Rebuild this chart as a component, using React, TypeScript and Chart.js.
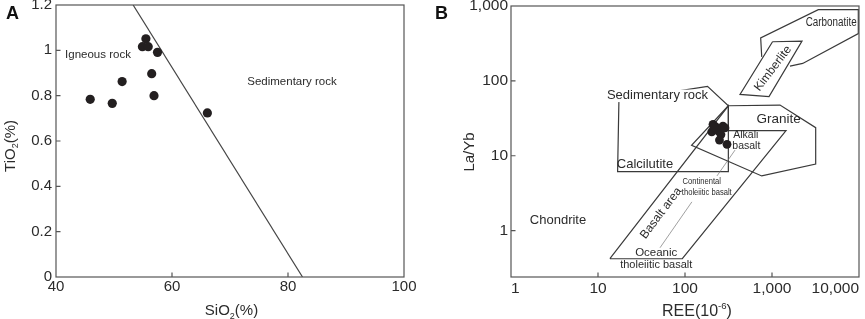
import React, { useEffect, useRef } from "react";
import { Chart, registerables } from "chart.js";

Chart.register(...registerables);

const FONT = "'Liberation Sans', Arial, Helvetica, sans-serif";
const TXT = "#2b2b2b";
const DOT = "#231f20";
const LINE = "#3a3a3a";

// ---------------- Panel A : TiO2 vs SiO2 ----------------
const sio2Values = [45.9, 49.7, 51.4, 55.5, 54.9, 55.9, 57.5, 56.5, 56.9, 66.1];
const tio2Values = [0.784, 0.766, 0.862, 1.051, 1.016, 1.016, 0.991, 0.897, 0.8, 0.724];
const boundaryASiO2 = [53.3, 82.5];
const boundaryATiO2 = [1.2, 0];
const xTicksA = [40, 60, 80, 100];
const xTickLabelsA = ["40", "60", "80", "100"];
const yTicksA = [0, 0.2, 0.4, 0.6, 0.8, 1, 1.2];
const yTickLabelsA = ["0", "0.2", "0.4", "0.6", "0.8", "1", "1.2"];
const regionLabelsA = ["Igneous rock", "Sedimentary rock"];
const regionLabelXA = [47.24, 80.69];
const regionLabelYA = [0.979, 0.86];

// ---------------- Panel B : La/Yb vs REE ----------------
const reeValues = [210, 273, 227, 203, 240, 259, 249, 304, 288, 215];
const laYbValues = [26.3, 24.9, 24.2, 20.9, 21.4, 19.2, 16.2, 14.2, 23.5, 24.2];

const carbonatiteREE = [762, 741, 3405, 9820, 9820, 2254, 1610];
const carbonatiteLaYb = [209, 375, 895, 895, 428, 171, 157];
const kimberliteREE = [1014, 2213, 924, 429, 1014];
const kimberliteLaYb = [333, 339, 61.7, 65.9, 333];
const sedimentaryREE = [17.4, 181.5, 315, 315, 16.8, 17.4];
const sedimentaryLaYb = [55.3, 84.4, 46.5, 6.14, 6.14, 55.3];
const graniteREE = [315, 1236, 3178, 3178, 762, 119, 315];
const graniteLaYb = [46.5, 47.5, 23.7, 7.76, 5.37, 13.8, 46.5];
const basaltREE = [13.7, 315, 315, 1449, 93.1, 13.7];
const basaltLaYb = [0.421, 46.5, 21.7, 21.7, 0.421, 0.421];
const leader1REE = [376, 233];
const leader1LaYb = [11.9, 5.37];
const leader2REE = [120, 51.6];
const leader2LaYb = [2.42, 0.59];

const xTicksB = [1, 10, 100, 1000, 10000];
const xTickLabelsB = ["1", "10", "100", "1,000", "10,000"];
const yTicksB = [1, 10, 100, 1000];
const yTickLabelsB = ["1", "10", "100", "1,000"];

const regionLabelsB = [
  "Carbonatite", "Kimberlite", "Sedimentary rock", "Granite", "Alkali", "basalt",
  "Calcilutite", "Chondrite", "Basalt area", "Continental", "tholeiitic basalt",
  "Oceanic", "tholeiitic basalt",
];
const regionLabelXB = [4789, 1026, 48.3, 1194, 500, 507, 34.7, 3.47, 53, 156, 178, 46.7, 46.7];
const regionLabelYB = [593, 146.6, 63.1, 30.9, 18.9, 13.5, 7.69, 1.35, 1.71, 4.51, 3.26, 0.511, 0.343];
// styles: [fontSize, rotationDeg, scaleX, whiteBackground]
const regionStyleB: [number, number, number, boolean][] = [
  [12, 0, 0.82, false],
  [12, -52.6, 1, false],
  [13, 0, 1, true],
  [13.5, 0, 1, false],
  [10.5, 0, 1, false],
  [10.5, 0, 1, false],
  [13, 0, 1, false],
  [13, 0, 1, false],
  [12, -53, 1, false],
  [9.5, 0, 0.8, false],
  [9.5, 0, 0.8, false],
  [11.5, 0, 1, false],
  [11, 0, 1, false],
];

type Seg = { t: string; sub?: boolean; sup?: boolean };

function drawRich(ctx: CanvasRenderingContext2D, segs: Seg[], cx: number, cy: number, rot: number, size: number) {
  ctx.save();
  ctx.translate(cx, cy);
  ctx.rotate(rot);
  const small = size * 0.6;
  const fontOf = (s: Seg) => `${s.sub || s.sup ? small : size}px ${FONT}`;
  let total = 0;
  const widths = segs.map((s) => {
    ctx.font = fontOf(s);
    const w = ctx.measureText(s.t).width;
    total += w;
    return w;
  });
  let x = -total / 2;
  ctx.textAlign = "left";
  ctx.textBaseline = "alphabetic";
  ctx.fillStyle = TXT;
  const base = size * 0.36;
  segs.forEach((s, i) => {
    ctx.font = fontOf(s);
    const dy = s.sub ? size * 0.22 : s.sup ? -size * 0.42 : 0;
    ctx.fillText(s.t, x, base + dy);
    x += widths[i];
  });
  ctx.restore();
}

type Annot = { text: string; x: number; y: number; size: number; rot: number; sx: number; bg: boolean };
type Title = { segs: Seg[]; x: number; y: number; rot: number; size: number };

function makeDecor(cfg: {
  xTicks: number[];
  yTicks: number[];
  annots: Annot[];
  titles: Title[];
  letter: { text: string; x: number; y: number };
}) {
  return {
    id: "decor",
    afterDatasetsDraw(chart: any) {
      const { ctx, chartArea: a } = chart;
      const xs = chart.scales.x;
      const ys = chart.scales.y;
      // annotations (region names)
      for (const an of cfg.annots) {
        const px = xs.getPixelForValue(an.x);
        const py = ys.getPixelForValue(an.y);
        ctx.save();
        ctx.translate(px, py);
        if (an.rot) ctx.rotate((an.rot * Math.PI) / 180);
        if (an.sx !== 1) ctx.scale(an.sx, 1);
        ctx.font = `${an.size}px ${FONT}`;
        ctx.textAlign = "center";
        ctx.textBaseline = "middle";
        if (an.bg) {
          const w = ctx.measureText(an.text).width;
          ctx.fillStyle = "#fff";
          ctx.fillRect(-w / 2 - 1, -an.size * 0.48, w + 2, an.size * 0.96);
        }
        ctx.fillStyle = TXT;
        ctx.fillText(an.text, 0, 0);
        ctx.restore();
      }
      // frame + inward ticks
      ctx.save();
      ctx.strokeStyle = "#555";
      ctx.lineWidth = 1.2;
      ctx.strokeRect(a.left, a.top, a.right - a.left, a.bottom - a.top);
      ctx.beginPath();
      for (const v of cfg.xTicks) {
        const px = xs.getPixelForValue(v);
        if (px <= a.left + 2 || px >= a.right - 2) continue;
        ctx.moveTo(px, a.bottom);
        ctx.lineTo(px, a.bottom - 4.5);
      }
      for (const v of cfg.yTicks) {
        const py = ys.getPixelForValue(v);
        if (py <= a.top + 2 || py >= a.bottom - 2) continue;
        ctx.moveTo(a.left, py);
        ctx.lineTo(a.left + 4.5, py);
      }
      ctx.stroke();
      ctx.restore();
    },
    afterDraw(chart: any) {
      const { ctx } = chart;
      for (const t of cfg.titles) drawRich(ctx, t.segs, t.x, t.y, t.rot, t.size);
      ctx.save();
      ctx.font = `bold 18px ${FONT}`;
      ctx.fillStyle = "#111";
      ctx.textAlign = "center";
      ctx.textBaseline = "middle";
      ctx.fillText(cfg.letter.text, cfg.letter.x, cfg.letter.y);
      ctx.restore();
    },
  };
}

const pts = (xs: number[], ys: number[]) => xs.map((x, i) => ({ x, y: ys[i] }));
const zeroPad = (s: any) => {
  s.paddingLeft = 0;
  s.paddingRight = 0;
  s.paddingTop = 0;
  s.paddingBottom = 0;
};

const polyDs = (xs: number[], ys: number[], width = 1.2, color = LINE) => ({
  data: pts(xs, ys),
  showLine: true,
  pointRadius: 0,
  pointHoverRadius: 0,
  borderColor: color,
  borderWidth: width,
  backgroundColor: "transparent",
  fill: false,
  tension: 0,
});

function configA(): any {
  return {
    type: "scatter",
    data: {
      datasets: [
        {
          data: pts(sio2Values, tio2Values),
          pointRadius: 4.6,
          pointHoverRadius: 4.6,
          backgroundColor: DOT,
          borderColor: DOT,
          borderWidth: 0,
        },
        polyDs(boundaryASiO2, boundaryATiO2, 1.2, "#444"),
      ],
    },
    options: {
      responsive: false,
      animation: false,
      devicePixelRatio: 1,
      events: [],
      layout: { padding: { left: 0, top: 5, right: 26, bottom: 0 } },
      plugins: { legend: { display: false }, tooltip: { enabled: false } },
      scales: {
        x: {
          type: "linear",
          min: 40,
          max: 100,
          grid: { display: false, drawTicks: false },
          border: { display: false },
          afterBuildTicks: (s: any) => {
            s.ticks = xTicksA.map((v) => ({ value: v }));
          },
          ticks: {
            padding: 1,
            color: TXT,
            autoSkip: false,
            maxRotation: 0,
            font: { family: FONT, size: 15 },
            callback: (_v: any, i: number) => xTickLabelsA[i],
          },
          afterFit: (s: any) => {
            s.height = 42;
            zeroPad(s);
          },
        },
        y: {
          type: "linear",
          min: 0,
          max: 1.2,
          grid: { display: false, drawTicks: false },
          border: { display: false },
          afterBuildTicks: (s: any) => {
            s.ticks = yTicksA.map((v) => ({ value: v }));
          },
          ticks: {
            padding: 4,
            color: TXT,
            autoSkip: false,
            font: { family: FONT, size: 15 },
            callback: (_v: any, i: number) => yTickLabelsA[i],
          },
          afterFit: (s: any) => {
            s.width = 56;
            zeroPad(s);
          },
        },
      },
    },
    plugins: [
      makeDecor({
        xTicks: xTicksA,
        yTicks: yTicksA,
        annots: regionLabelsA.map((t, i) => ({
          text: t, x: regionLabelXA[i], y: regionLabelYA[i], size: 11.5, rot: 0, sx: 1, bg: false,
        })),
        titles: [
          { segs: [{ t: "SiO" }, { t: "2", sub: true }, { t: "(%)" }], x: 231.5, y: 310, rot: 0, size: 15 },
          { segs: [{ t: "TiO" }, { t: "2", sub: true }, { t: "(%)" }], x: 9.5, y: 146, rot: -Math.PI / 2, size: 15 },
        ],
        letter: { text: "A", x: 12.5, y: 14.5 },
      }),
    ],
  };
}

function configB(): any {
  return {
    type: "scatter",
    data: {
      datasets: [
        {
          data: pts(reeValues, laYbValues),
          pointRadius: 4.4,
          pointHoverRadius: 4.4,
          backgroundColor: DOT,
          borderColor: DOT,
          borderWidth: 0,
        },
        polyDs(leader1REE, leader1LaYb, 0.7, "#777"),
        polyDs(leader2REE, leader2LaYb, 0.7, "#777"),
        polyDs(kimberliteREE, kimberliteLaYb),
        polyDs(carbonatiteREE, carbonatiteLaYb),
        polyDs(sedimentaryREE, sedimentaryLaYb),
        polyDs(graniteREE, graniteLaYb),
        polyDs(basaltREE, basaltLaYb),
      ],
    },
    options: {
      responsive: false,
      animation: false,
      devicePixelRatio: 1,
      events: [],
      layout: { padding: { left: 0, top: 6, right: 6, bottom: 0 } },
      plugins: { legend: { display: false }, tooltip: { enabled: false } },
      scales: {
        x: {
          type: "logarithmic",
          min: 1,
          max: 10000,
          grid: { display: false, drawTicks: false },
          border: { display: false },
          afterBuildTicks: (s: any) => {
            s.ticks = xTicksB.map((v) => ({ value: v }));
          },
          ticks: {
            padding: 2,
            color: TXT,
            autoSkip: false,
            maxRotation: 0,
            align: "inner",
            font: { family: FONT, size: 15.5 },
            callback: (_v: any, i: number) => xTickLabelsB[i],
          },
          afterFit: (s: any) => {
            s.height = 42;
            zeroPad(s);
          },
        },
        y: {
          type: "logarithmic",
          min: 0.24,
          max: 1000,
          grid: { display: false, drawTicks: false },
          border: { display: false },
          afterBuildTicks: (s: any) => {
            s.ticks = yTicksB.map((v) => ({ value: v }));
          },
          ticks: {
            padding: 3,
            color: TXT,
            autoSkip: false,
            font: { family: FONT, size: 15.5 },
            callback: (_v: any, i: number) => yTickLabelsB[i],
          },
          afterFit: (s: any) => {
            s.width = 81;
            zeroPad(s);
          },
        },
      },
    },
    plugins: [
      makeDecor({
        xTicks: xTicksB,
        yTicks: yTicksB,
        annots: regionLabelsB.map((t, i) => ({
          text: t,
          x: regionLabelXB[i],
          y: regionLabelYB[i],
          size: regionStyleB[i][0],
          rot: regionStyleB[i][1],
          sx: regionStyleB[i][2],
          bg: regionStyleB[i][3],
        })),
        titles: [
          { segs: [{ t: "REE(10" }, { t: "-6", sup: true }, { t: ")" }], x: 267, y: 310, rot: 0, size: 16 },
          { segs: [{ t: "La/Yb" }], x: 39, y: 152, rot: -Math.PI / 2, size: 15 },
        ],
        letter: { text: "B", x: 11.5, y: 14 },
      }),
    ],
  };
}

export default function App() {
  const refA = useRef<HTMLCanvasElement>(null);
  const refB = useRef<HTMLCanvasElement>(null);
  useEffect(() => {
    const a = new Chart(refA.current as HTMLCanvasElement, configA());
    const b = new Chart(refB.current as HTMLCanvasElement, configB());
    return () => {
      a.destroy();
      b.destroy();
    };
  }, []);
  return (
    <div style={{ position: "absolute", left: 0, top: 0, width: 865, height: 319, background: "#fff" }}>
      <canvas
        ref={refA}
        width={430}
        height={319}
        style={{ position: "absolute", left: 0, top: 0, width: 430, height: 319 }}
      />
      <canvas
        ref={refB}
        width={435}
        height={319}
        style={{ position: "absolute", left: 430, top: 0, width: 435, height: 319 }}
      />
    </div>
  );
}
